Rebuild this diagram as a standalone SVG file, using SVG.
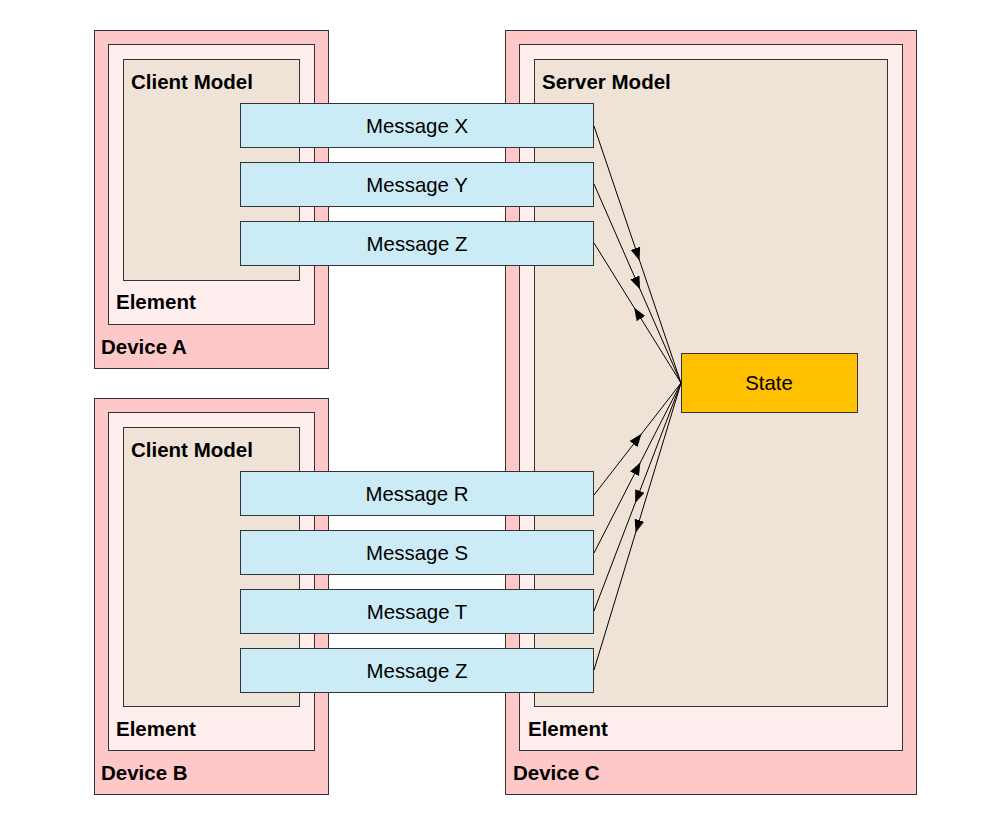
<svg xmlns="http://www.w3.org/2000/svg" width="992" height="825" viewBox="0 0 992 825">
  <style>
    .device { fill: #ffc8c8; stroke: #333; stroke-width: 1; }
    .element { fill: #ffeeee; stroke: #333; stroke-width: 1; }
    .model { fill: #efe3d8; stroke: #333; stroke-width: 1; }
    .msg { fill: #cbebf7; stroke: #333; stroke-width: 1; }
    .state { fill: #ffc000; stroke: #333; stroke-width: 1; }
    .label { font-family: "Liberation Sans", Arial, sans-serif; font-size: 20.5px; font-weight: bold; fill: #000; }
    .txt { font-family: "Liberation Sans", Arial, sans-serif; font-size: 20.4px; fill: #000; text-anchor: middle; }
    .link { fill: none; stroke: #000; stroke-width: 1; marker-mid: url(#arrow); }
  </style>
  <defs>
    <marker id="arrow" viewBox="0 0 10 10" refX="5" refY="5" markerWidth="13" markerHeight="13" markerUnits="userSpaceOnUse" orient="auto">
      <path d="M0,1.2 L10,5 L0,8.8 Z" fill="#000"/>
    </marker>
  </defs>

  <g id="device-a">
    <rect class="device" x="94.5" y="30.5" width="234" height="338"/>
    <rect class="element" x="108.5" y="44.5" width="206" height="280"/>
    <rect class="model" x="123.5" y="59.5" width="176" height="221"/>
    <text class="label" x="131" y="89">Client Model</text>
    <text class="label" x="116" y="309">Element</text>
    <text class="label" x="101" y="354">Device A</text>
  </g>

  <g id="device-b">
    <rect class="device" x="94.5" y="398.5" width="234" height="396"/>
    <rect class="element" x="108.5" y="412.5" width="206" height="338"/>
    <rect class="model" x="123.5" y="427.5" width="176" height="279"/>
    <text class="label" x="131" y="457">Client Model</text>
    <text class="label" x="116" y="736">Element</text>
    <text class="label" x="101" y="780">Device B</text>
  </g>

  <g id="device-c">
    <rect class="device" x="505.5" y="30.5" width="411" height="764"/>
    <rect class="element" x="519.5" y="44.5" width="383" height="706"/>
    <rect class="model" x="534.5" y="59.5" width="353" height="647"/>
    <text class="label" x="542" y="89">Server Model</text>
    <text class="label" x="528" y="736">Element</text>
    <text class="label" x="513" y="780">Device C</text>
  </g>

  <g id="state">
    <rect class="state" x="681.5" y="353.5" width="176" height="59"/>
    <text class="txt" x="769" y="390">State</text>
  </g>

  <g id="msg-x">
    <rect class="msg" x="240.5" y="103.5" width="353" height="44"/>
    <text class="txt" x="417" y="133">Message X</text>
  </g>
  <g id="msg-y">
    <rect class="msg" x="240.5" y="162.5" width="353" height="44"/>
    <text class="txt" x="417" y="192">Message Y</text>
  </g>
  <g id="msg-z-a">
    <rect class="msg" x="240.5" y="221.5" width="353" height="44"/>
    <text class="txt" x="417" y="251">Message Z</text>
  </g>
  <g id="msg-r">
    <rect class="msg" x="240.5" y="471.5" width="353" height="44"/>
    <text class="txt" x="417" y="501">Message R</text>
  </g>
  <g id="msg-s">
    <rect class="msg" x="240.5" y="530.5" width="353" height="44"/>
    <text class="txt" x="417" y="560">Message S</text>
  </g>
  <g id="msg-t">
    <rect class="msg" x="240.5" y="589.5" width="353" height="44"/>
    <text class="txt" x="417" y="619">Message T</text>
  </g>
  <g id="msg-z-b">
    <rect class="msg" x="240.5" y="648.5" width="353" height="44"/>
    <text class="txt" x="417" y="678">Message Z</text>
  </g>

  <g id="connectors">
    <!-- towards State -->
    <path class="link" d="M594,126 L637.5,254.5 L681,383"/>
    <path class="link" d="M594,184 L637.5,283.5 L681,383"/>
    <path class="link" d="M594,495 L637.5,439 L681,383"/>
    <path class="link" d="M594,553 L637.5,468 L681,383"/>
    <!-- from State -->
    <path class="link" d="M681,383 L637.5,313 L594,243"/>
    <path class="link" d="M681,383 L637.5,497 L594,611"/>
    <path class="link" d="M681,383 L637.5,526.5 L594,670"/>
  </g>
</svg>
